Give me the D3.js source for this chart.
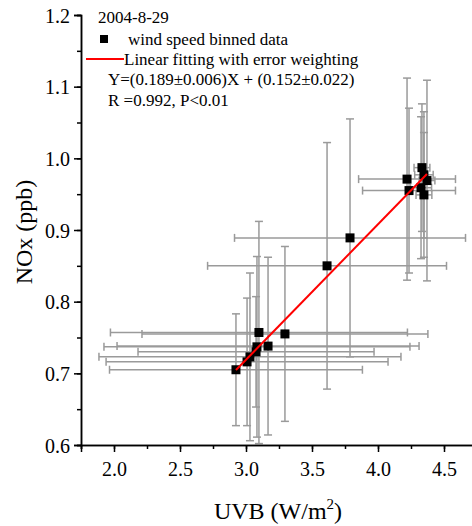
<!DOCTYPE html>
<html>
<head>
<meta charset="utf-8">
<script src="https://cdn.jsdelivr.net/npm/d3@7"></script>
<style>
  body { margin: 0; background: #fff; }
  svg text { font-family: "Liberation Serif", "Times New Roman", serif; }
</style>
</head>
<body>
<div id="container"></div>
<script>
const WIDTH = 472;
const HEIGHT = 526;
const MARGIN = { top: 15, right: -5, bottom: 81, left: 81 };

// binned data
const uvb = [2.924, 3.008, 3.030, 3.076, 3.083, 3.098, 3.167, 3.295, 3.614, 3.788,
  4.220, 4.235, 4.333, 4.348, 4.371, 4.326, 4.348];
const nox = [0.705, 0.716, 0.723, 0.730, 0.737, 0.757, 0.738, 0.755, 0.850, 0.889,
  0.971, 0.955, 0.987, 0.977, 0.969, 0.959, 0.949];
const uvbErr = [0.958, 1.068, 1.144, 0.894, 1.159, 1.125, 1.144, 1.083, 0.905, 0.875,
  0.367, 0.352, 0.06, 0.07, 0.06, 0.08, 0.06];
const noxErr = [0.078, 0.089, 0.117, 0.077, 0.126, 0.155, 0.124, 0.122, 0.172, 0.166,
  0.141, 0.115, 0.089, 0.088, 0.140, 0.099, 0.087];

const slope = 0.189;
const intercept = 0.152;

const xTicks = [2.0, 2.5, 3.0, 3.5, 4.0, 4.5];
const yTicks = [0.6, 0.7, 0.8, 0.9, 1.0, 1.1, 1.2];

const legendLines = [
  "Y=(0.189\u00b10.006)X + (0.152\u00b10.022)",
  "R =0.992, P<0.01",
];

const data = uvb.map((x, i) => ({ x, y: nox[i], xe: uvbErr[i], ye: noxErr[i] }));

const svg = d3.select("#container")
  .append("svg")
  .attr("width", WIDTH)
  .attr("height", HEIGHT)
  .attr("font-family", "Liberation Serif");

const x = d3.scaleLinear()
  .domain([1.75, 4.75])
  .range([MARGIN.left, MARGIN.left + 396]);

const y = d3.scaleLinear()
  .domain([0.6, 1.2])
  .range([HEIGHT - MARGIN.bottom, MARGIN.top]);

const CAP = 4;
const errColor = "#9a9a9a";

// error bars
const bars = svg.append("g").attr("stroke", errColor).attr("stroke-width", 1.5);
data.forEach((d) => {
  const cx = x(d.x), cy = y(d.y);
  const x0 = x(d.x - d.xe), x1 = x(d.x + d.xe);
  const y0 = y(d.y - d.ye), y1 = y(d.y + d.ye);
  bars.append("line").attr("x1", x0).attr("x2", x1).attr("y1", cy).attr("y2", cy);
  bars.append("line").attr("x1", x0).attr("x2", x0).attr("y1", cy - CAP).attr("y2", cy + CAP);
  bars.append("line").attr("x1", x1).attr("x2", x1).attr("y1", cy - CAP).attr("y2", cy + CAP);
  bars.append("line").attr("x1", cx).attr("x2", cx).attr("y1", y0).attr("y2", y1);
  bars.append("line").attr("x1", cx - CAP).attr("x2", cx + CAP).attr("y1", y0).attr("y2", y0);
  bars.append("line").attr("x1", cx - CAP).attr("x2", cx + CAP).attr("y1", y1).attr("y2", y1);
});

// squares
svg.append("g")
  .selectAll("rect")
  .data(data)
  .enter()
  .append("rect")
  .attr("x", (d) => x(d.x) - 4.5)
  .attr("y", (d) => y(d.y) - 4.5)
  .attr("width", 9)
  .attr("height", 9)
  .attr("fill", "#000");

// fitted line over the data range
const xr = d3.extent(uvb);
svg.append("line")
  .attr("x1", x(xr[0]))
  .attr("y1", y(slope * xr[0] + intercept))
  .attr("x2", x(xr[1]))
  .attr("y2", y(slope * xr[1] + intercept))
  .attr("stroke", "#ff0000")
  .attr("stroke-width", 2);

// axes
const xAxis = svg.append("g")
  .attr("transform", `translate(0, ${HEIGHT - MARGIN.bottom})`)
  .call(d3.axisBottom(x).tickValues(d3.range(1.75, 4.76, 0.25)).tickSize(4).tickFormat(""));
xAxis.append("g")
  .call(d3.axisBottom(x).tickValues(xTicks).tickSize(7).tickPadding(10).tickFormat(d3.format(".1f")));

const yAxis = svg.append("g")
  .attr("transform", `translate(${MARGIN.left}, 0)`)
  .call(d3.axisLeft(y).tickValues(d3.range(0.6, 1.201, 0.05)).tickSize(4).tickFormat(""));
yAxis.append("g")
  .call(d3.axisLeft(y).tickValues(yTicks).tickSize(7).tickPadding(4).tickFormat(d3.format(".1f")));

svg.selectAll(".domain").attr("stroke-width", 1.5);
svg.selectAll(".tick line").attr("stroke-width", 1.5);
svg.selectAll("g").attr("font-family", "Liberation Serif");
svg.selectAll(".tick text")
  .attr("font-size", 20)
  .attr("fill", "#000");
yAxis.selectAll(".tick text").attr("dy", "0.35em");

// axis titles
const xTitle = svg.append("text")
  .attr("x", 278)
  .attr("y", 519)
  .attr("text-anchor", "middle")
  .attr("font-size", 24);
xTitle.append("tspan").text("UVB (W/m");
xTitle.append("tspan").attr("font-size", 15).attr("dy", -10).text("2");
xTitle.append("tspan").attr("dy", 10).text(")");

svg.append("text")
  .attr("transform", "translate(32, 232) rotate(-90)")
  .attr("text-anchor", "middle")
  .attr("font-size", 24)
  .text("NOx (ppb)");

// legend
const legend = svg.append("g").attr("font-size", 17).attr("fill", "#000");
legend.append("text").attr("x", 98).attr("y", 23).text("2004-8-29");
legend.append("rect").attr("x", 100).attr("y", 35).attr("width", 8).attr("height", 8).attr("fill", "#000");
legend.append("text").attr("x", 128).attr("y", 45).text("wind speed binned data");
legend.append("line")
  .attr("x1", 86).attr("x2", 124).attr("y1", 59).attr("y2", 59)
  .attr("stroke", "#ff0000").attr("stroke-width", 2);
legend.append("text").attr("x", 124).attr("y", 65).text("Linear fitting with error weighting");
legend.selectAll(null)
  .data(legendLines)
  .enter()
  .append("text")
  .attr("x", 108)
  .attr("y", (d, i) => 85 + i * 21)
  .text((d) => d);
</script>
</body>
</html>
